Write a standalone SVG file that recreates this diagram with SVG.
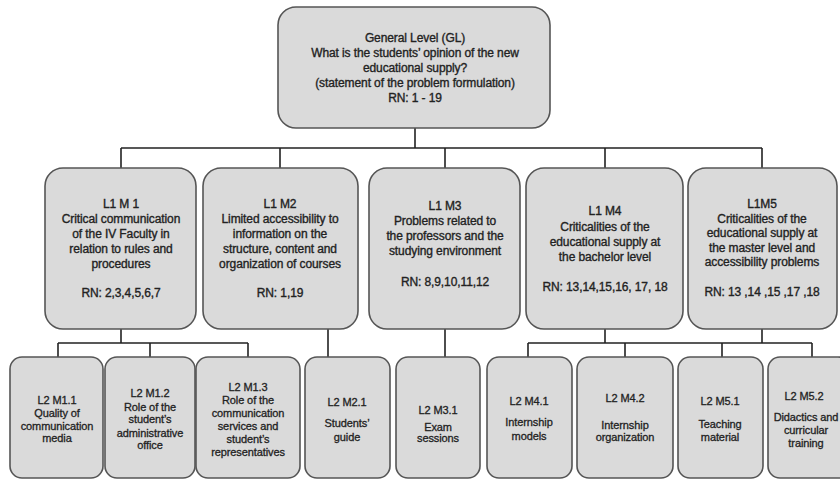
<svg xmlns="http://www.w3.org/2000/svg" width="840" height="480" viewBox="0 0 840 480">
<style>
.box{fill:#dadada;stroke:#555;stroke-width:1.6}
.t{font-family:"Liberation Sans",Arial,sans-serif;font-size:12px;fill:#222;stroke:#222;stroke-width:0.35;text-anchor:middle;letter-spacing:-0.1px}
.s{font-family:"Liberation Sans",Arial,sans-serif;font-size:11px;fill:#222;stroke:#222;stroke-width:0.3;text-anchor:middle;letter-spacing:-0.1px}
.ln{fill:none;stroke:#222;stroke-width:1.6}
</style>
<rect width="840" height="480" fill="#fff"/>
<g id="connectors" class="ln">
<path d="M415 128V148M121 148H762M121 148V168M280 148V168M445 148V168M605 148V168M762 148V168"/>
<path d="M121 329V343M58 343H248M58 343V357M150 343V357M248 343V357"/>
<path d="M328 329V357M445 329V357"/>
<path d="M605 329V343M762 329V343M528 343H812M528 343V357M625 343V357M722 343V357M812 343V357"/>
</g>
<g id="GL">
<rect class="box" x="278" y="7" width="272" height="121" rx="18"/>
<text class="t"><tspan x="415" y="42">General Level (GL)</tspan><tspan x="415" y="57">What is the students’ opinion of the new</tspan><tspan x="415" y="72">educational supply?</tspan><tspan x="415" y="87">(statement of the problem formulation)</tspan><tspan x="415" y="102">RN: 1 - 19</tspan></text>
</g>
<g id="L1M1">
<rect class="box" x="45" y="168" width="151" height="161" rx="18"/>
<text class="t"><tspan x="121" y="208">L1 M 1</tspan><tspan x="121" y="223">Critical communication</tspan><tspan x="121" y="238">of the IV Faculty in</tspan><tspan x="121" y="253">relation to rules and</tspan><tspan x="121" y="268">procedures</tspan><tspan x="121" y="297">RN:  2,3,4,5,6,7</tspan></text>
</g>
<g id="L1M2">
<rect class="box" x="203" y="168" width="155" height="161" rx="18"/>
<text class="t"><tspan x="280" y="208">L1 M2</tspan><tspan x="280" y="223">Limited accessibility  to</tspan><tspan x="280" y="238">information on  the</tspan><tspan x="280" y="253">structure, content and</tspan><tspan x="280" y="268">organization of courses</tspan><tspan x="280" y="297">RN: 1,19</tspan></text>
</g>
<g id="L1M3">
<rect class="box" x="369" y="168" width="151" height="161" rx="18"/>
<text class="t"><tspan x="445" y="210">L1 M3</tspan><tspan x="445" y="225">Problems related to</tspan><tspan x="445" y="240">the professors and the</tspan><tspan x="445" y="255">studying environment</tspan><tspan x="445" y="286">RN:  8,9,10,11,12</tspan></text>
</g>
<g id="L1M4">
<rect class="box" x="526" y="168" width="157" height="161" rx="18"/>
<text class="t"><tspan x="605" y="215">L1 M4</tspan><tspan x="605" y="231">Criticalities of the</tspan><tspan x="605" y="246">educational supply  at</tspan><tspan x="605" y="261">the bachelor level</tspan><tspan x="605" y="291">RN: 13,14,15,16, 17, 18</tspan></text>
</g>
<g id="L1M5">
<rect class="box" x="688" y="168" width="149" height="161" rx="18"/>
<text class="t"><tspan x="762" y="208">L1M5</tspan><tspan x="762" y="223">Criticalities of the</tspan><tspan x="762" y="237">educational supply  at</tspan><tspan x="762" y="252">the master level and</tspan><tspan x="762" y="266">accessibility problems</tspan><tspan x="762" y="296">RN: 13 ,14 ,15 ,17 ,18</tspan></text>
</g>
<g id="L2M1.1">
<rect class="box" x="10" y="357" width="93" height="121" rx="12"/>
<text class="s"><tspan x="57" y="404">L2 M1.1</tspan><tspan x="57" y="417">Quality of</tspan><tspan x="57" y="430">communication</tspan><tspan x="57" y="442">media</tspan></text>
</g>
<g id="L2M1.2">
<rect class="box" x="105" y="357" width="90" height="121" rx="12"/>
<text class="s"><tspan x="150" y="397">L2 M1.2</tspan><tspan x="150" y="411">Role of the</tspan><tspan x="150" y="423">student’s</tspan><tspan x="150" y="437">administrative</tspan><tspan x="150" y="449">office</tspan></text>
</g>
<g id="L2M1.3">
<rect class="box" x="196" y="357" width="104" height="121" rx="12"/>
<text class="s"><tspan x="248" y="391">L2 M1.3</tspan><tspan x="248" y="404">Role of the</tspan><tspan x="248" y="417">communication</tspan><tspan x="248" y="430">services and</tspan><tspan x="248" y="443">student’s</tspan><tspan x="248" y="456">representatives</tspan></text>
</g>
<g id="L2M2.1">
<rect class="box" x="305" y="357" width="85" height="121" rx="12"/>
<text class="s"><tspan x="347" y="406">L2 M2.1</tspan><tspan x="347" y="427">Students’</tspan><tspan x="347" y="441">guide</tspan></text>
</g>
<g id="L2M3.1">
<rect class="box" x="396" y="357" width="84" height="121" rx="12"/>
<text class="s"><tspan x="438" y="414">L2 M3.1</tspan><tspan x="438" y="431">Exam</tspan><tspan x="438" y="442">sessions</tspan></text>
</g>
<g id="L2M4.1">
<rect class="box" x="487" y="357" width="85" height="121" rx="12"/>
<text class="s"><tspan x="529" y="405">L2 M4.1</tspan><tspan x="529" y="426">Internship</tspan><tspan x="529" y="440">models</tspan></text>
</g>
<g id="L2M4.2">
<rect class="box" x="577" y="357" width="96" height="121" rx="12"/>
<text class="s"><tspan x="625" y="402">L2 M4.2</tspan><tspan x="625" y="429">Internship</tspan><tspan x="625" y="441">organization</tspan></text>
</g>
<g id="L2M5.1">
<rect class="box" x="678" y="357" width="85" height="121" rx="12"/>
<text class="s"><tspan x="720" y="405">L2 M5.1</tspan><tspan x="720" y="428">Teaching</tspan><tspan x="720" y="441">material</tspan></text>
</g>
<g id="L2M5.2">
<rect class="box" x="768" y="357" width="82" height="121" rx="12"/>
<text class="s"><tspan x="804" y="400">L2 M5.2</tspan><tspan x="806" y="421">Didactics and</tspan><tspan x="806" y="434">curricular</tspan><tspan x="806" y="447">training</tspan></text>
</g>
</svg>
